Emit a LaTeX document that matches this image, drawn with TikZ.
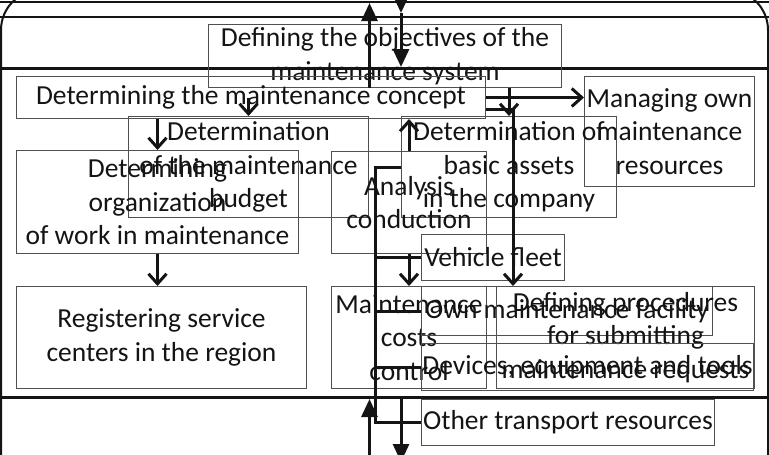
\documentclass[tikz,border=0pt]{standalone}
\usepackage{fontspec}
\setmainfont{Carlito}
\usetikzlibrary{arrows.meta,calc}
\definecolor{boxgray}{HTML}{505050}
\definecolor{ink}{HTML}{141414}
\begin{document}
\begin{tikzpicture}[x=1pt,y=-1pt,
  box/.style={draw=boxgray, line width=1pt, inner sep=0pt, align=center, text=ink,
    font=\fontsize{27.5}{33.5}\selectfont, anchor=north west},
  conn/.style={draw=ink, line width=3pt},
  arr/.style={conn, -{Straight Barb[length=10pt,width=18pt]}},
  bigarr/.style={conn, -{Triangle[length=18pt,width=16pt]}},
  band/.style={draw=ink, line width=2.5pt}
]
\useasboundingbox (0,0) rectangle (769,455);
\clip (0,0) rectangle (769,455);

% frame
\draw[draw=ink, line width=2pt, rounded corners=40pt] (1,520) -- (1,-10) -- (768,-10) -- (768,520);
\draw[band] (0,2) -- (769,2);
\draw[band, line width=2pt] (0,17) -- (769,17);
\draw[band, line width=3pt] (0,68) -- (769,68);
\draw[band, line width=3pt] (0,397) -- (769,397);

% boxes
\node[box, minimum width=353pt, minimum height=63pt] (objectives) at (208,24) {Defining the objectives of the\\maintenance system};
\node[box, minimum width=469pt, minimum height=42pt] (concept) at (16,76) {Determining the maintenance concept};
\node[box, minimum width=170pt, minimum height=110pt] (managing) at (584,76) {Managing own\\maintenance\\resources};
\node[box, minimum width=240pt, minimum height=101pt] (budget) at (128,116) {Determination\\of the maintenance\\budget};
\node[box, minimum width=215pt, minimum height=101pt] (assets) at (401,116) {Determination of\\basic assets\\in the company};
\node[box, minimum width=282pt, minimum height=103pt] (org) at (16,150) {Determining\\organization\\of work in maintenance};
\node[box, minimum width=155pt, minimum height=102pt] (analysis) at (331,151) {Analysis\\conduction};
\node[box, minimum width=143pt, minimum height=46pt] (vehicle) at (421,234) {Vehicle fleet};
\node[box, minimum width=290pt, minimum height=102pt] (reg) at (16,286) {Registering service\\centers in the region};
\node[box, minimum width=155pt, minimum height=102pt] (costs) at (331,286) {Maintenance\\costs\\control};
\node[box, minimum width=291pt, minimum height=49pt] (own) at (421,286) {Own maintenance facility};
\node[box, minimum width=258pt, minimum height=102pt] (procedures) at (496,286) {Defining procedures\\for submitting\\maintenance requests};
\node[box, minimum width=332pt, minimum height=47pt] (devices) at (421,343) {Devices, equipment and tools};
\node[box, minimum width=293pt, minimum height=46pt] (other) at (421,399) {Other transport resources};

% helper coordinates
\coordinate (topL) at (369.5,3);
\coordinate (topR1) at (401,-6);
\coordinate (topR2) at (401,13);
\coordinate (topR3) at (401,67);
\coordinate (botL1) at (369.5,470);
\coordinate (botL2) at (369.5,399);
\coordinate (botR1) at (401,398);
\coordinate (botR2) at (401,462);
\coordinate (bus) at (375,0);
\coordinate (pj) at (513,109);

% through-band arrows
\draw[bigarr] (topL |- objectives.south) -- (topL);
\draw[bigarr] (topR1) -- (topR2);
\draw[bigarr] (topR2) -- (topR3);
\draw[bigarr] (botL1) -- (botL2);
\draw[bigarr] (botR1) -- (botR2);

% connectors
\draw[arr] (budget.north |- concept.center) -- (budget.north);
\draw[arr] (org.north |- concept.south) -- (org.north);
\draw[arr] (org.south) -- (org.south |- reg.north);
\draw[arr] (concept.east) -- (concept.east -| managing.west);
\draw[arr] (assets.north |- objectives.south) -- (assets.north);
\draw[arr] (concept.east |- pj) -- (pj) -- (pj |- procedures.north);
\draw[arr] (analysis.north) -- (analysis.north |- concept.south);
\draw[arr] (analysis.south) -- (analysis.south |- costs.north);

% bus from basic assets
\draw[conn] (assets.west) -- (assets.west -| bus) -- (other.west -| bus) -- (other.west);
\draw[conn] (vehicle.west -| bus) -- (vehicle.west);
\draw[conn] (own.west -| bus) -- (own.west);
\draw[conn] (devices.west -| bus) -- (devices.west);
\end{tikzpicture}
\end{document}
